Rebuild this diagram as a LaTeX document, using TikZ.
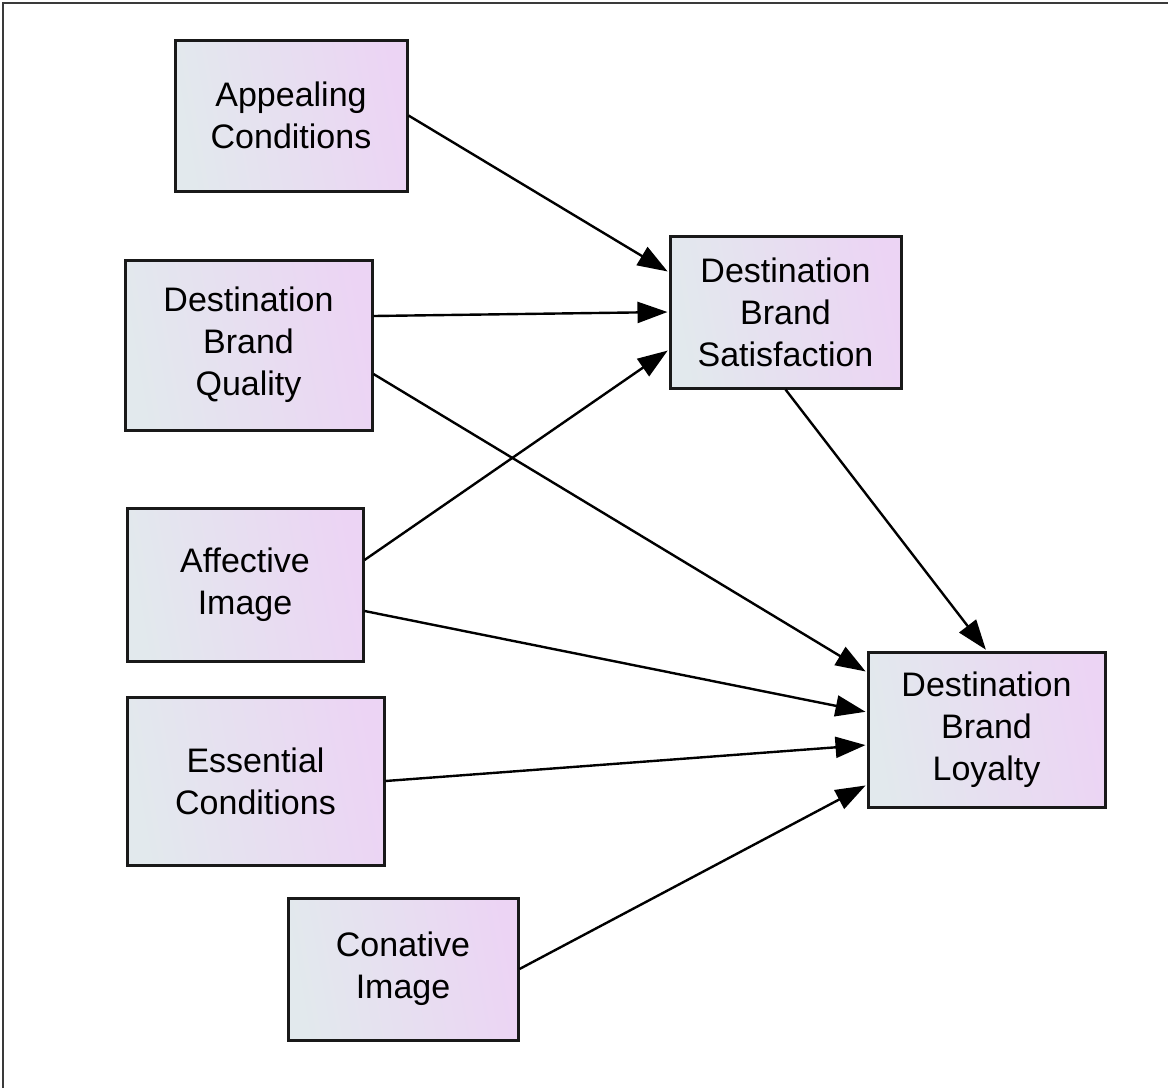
\documentclass[tikz,border=0pt]{standalone}
\usepackage{fontspec}
\setmainfont{Liberation Sans}
\usetikzlibrary{arrows.meta}
\definecolor{boxleft}{HTML}{E2E9ED}
\definecolor{boxright}{HTML}{ECD4F4}
\definecolor{framegray}{HTML}{3A3A3A}
\begin{document}
\begin{tikzpicture}[x=1pt,y=-1pt,
  construct/.style={draw=black!90, line width=3pt, left color=boxleft, right color=boxright,
    shading angle=100, align=center, inner sep=0pt,
    font=\fontsize{34}{42}\selectfont},
  link/.style={line width=2.4pt, -{Triangle[length=30pt,width=21pt]}, shorten >=1pt}]
  \useasboundingbox (0,0) rectangle (1168,1088);
  % outer frame (top and left edges)
  \draw[framegray, line width=2.4pt] (3,1088) -- (3,3) -- (1168,3);

  % constructs
  \node[construct, minimum width=232pt, minimum height=151pt] (ac) at (291,115.5) {Appealing\\Conditions};
  \node[construct, minimum width=247pt, minimum height=170pt] (dq) at (248.5,345) {Destination\\Brand\\Quality};
  \node[construct, minimum width=236pt, minimum height=153pt] (ai) at (245,584.5) {Affective\\Image};
  \node[construct, minimum width=257pt, minimum height=168pt] (ec) at (255.5,781) {Essential\\Conditions};
  \node[construct, minimum width=230pt, minimum height=142pt] (ci) at (403,969) {Conative\\Image};
  \node[construct, minimum width=231pt, minimum height=152pt] (sat) at (785.5,312) {Destination\\Brand\\Satisfaction};
  \node[construct, minimum width=237pt, minimum height=155pt] (loy) at (986.5,729.5) {Destination\\Brand\\Loyalty};

  % paths into satisfaction
  \draw[link] (ac.east) -- ([yshift=40pt]sat.west);
  \draw[link] ([yshift=29pt]dq.east) -- (sat.west);
  \draw[link] ([yshift=24.5pt]ai.east) -- ([yshift=-38pt]sat.west);

  % paths into loyalty
  \draw[link] ([yshift=-29pt]dq.east) -- ([yshift=57.5pt]loy.west);
  \draw[link] ([yshift=-26.5pt]ai.east) -- ([yshift=17.5pt]loy.west);
  \draw[link] (ec.east) -- ([yshift=-15.5pt]loy.west);
  \draw[link] (ci.east) -- ([yshift=-55.5pt]loy.west);
  \draw[link] (sat.south) -- (loy.north);
\end{tikzpicture}
\end{document}
